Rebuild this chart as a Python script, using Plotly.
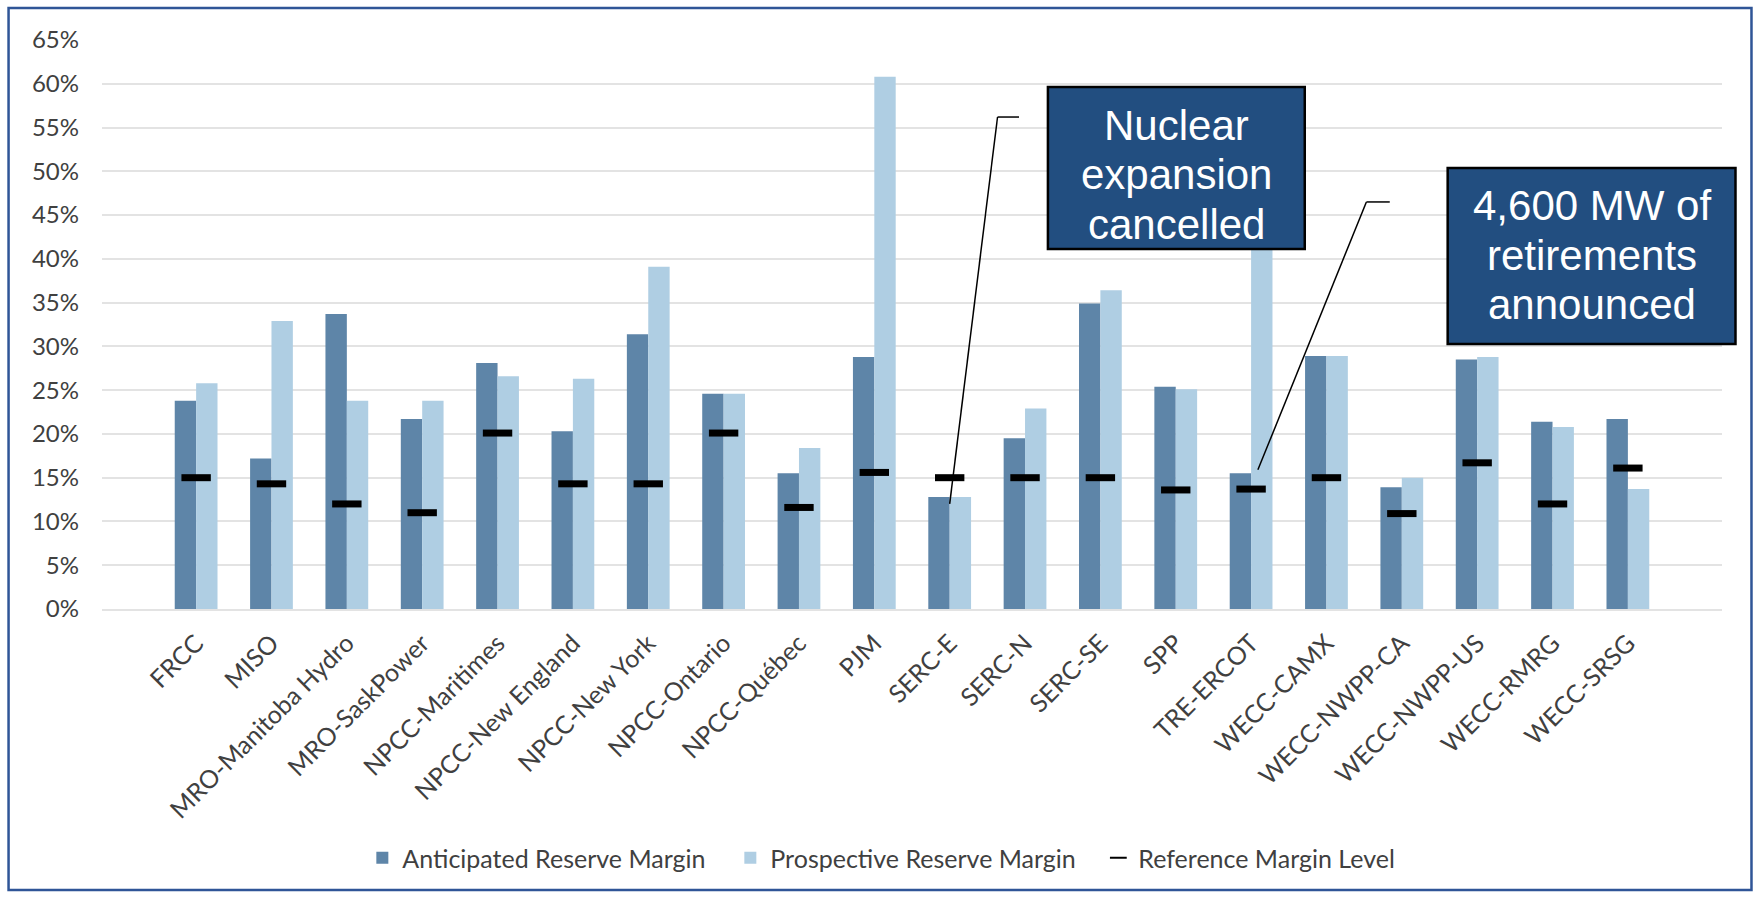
import plotly.graph_objects as go

categories = ["FRCC", "MISO", "MRO-Manitoba Hydro", "MRO-SaskPower", "NPCC-Maritimes",
              "NPCC-New England", "NPCC-New York", "NPCC-Ontario", "NPCC-Québec", "PJM",
              "SERC-E", "SERC-N", "SERC-SE", "SPP", "TRE-ERCOT", "WECC-CAMX",
              "WECC-NWPP-CA", "WECC-NWPP-US", "WECC-RMRG", "WECC-SRSG"]
anticipated = [23.8, 17.2, 33.7, 21.7, 28.1, 20.3, 31.4, 24.6, 15.5, 28.8,
               12.8, 19.5, 34.9, 25.4, 15.5, 28.9, 13.9, 28.5, 21.4, 21.7]
prospective = [25.8, 32.9, 23.8, 23.8, 26.6, 26.3, 39.1, 24.6, 18.4, 60.8,
               12.8, 22.9, 36.4, 25.1, 44.0, 28.9, 15.0, 28.8, 20.8, 13.7]
reference = [15.0, 14.3, 12.0, 11.0, 20.1, 14.3, 14.3, 20.1, 11.6, 15.6,
             15.0, 15.0, 15.0, 13.6, 13.7, 15.0, 10.9, 16.7, 12.0, 16.1]
y_ticks = list(range(0, 70, 5))
y_tick_labels = [f"{v}%" for v in y_ticks]
callout1_lines = ["Nuclear", "expansion", "cancelled"]
callout2_lines = ["4,600 MW of", "retirements", "announced"]

W, H = 1756, 897
L, R, T, B = 101.5, 1722.5, 40, 609


def px(x):
    return (x - L) / (R - L)


def py(y):
    return (B - y) / (B - T)


DARK = "#5E85A8"
LIGHT = "#AFCEE3"
BOXC = "#224E80"
TXT = "#404040"

fig = go.Figure()
fig.add_trace(go.Bar(x=categories, y=anticipated, name="Anticipated Reserve Margin",
                     marker=dict(color=DARK, line=dict(width=0))))
fig.add_trace(go.Bar(x=categories, y=prospective, name="Prospective Reserve Margin",
                     marker=dict(color=LIGHT, line=dict(width=0))))
fig.add_trace(go.Scatter(x=categories, y=reference, name="Reference Margin Level",
                         mode="markers",
                         marker=dict(symbol="line-ew", size=21, color="black",
                                     line=dict(color="black", width=7))))

shapes = []
# outer frame
shapes.append(dict(type="rect", xref="paper", yref="paper",
                   x0=px(8), x1=px(1752), y0=py(8), y1=py(890),
                   line=dict(color="#2F5597", width=2.5), layer="below"))
# leader lines (x in category index units, y in %)
shapes.append(dict(type="line", xref="x", yref="y", x0=10.92, x1=10.635, y0=56.2, y1=56.2,
                   line=dict(color="black", width=1.5), layer="above"))
shapes.append(dict(type="line", xref="x", yref="y", x0=10.635, x1=10.0, y0=56.2, y1=12.0,
                   line=dict(color="black", width=1.5), layer="above"))
shapes.append(dict(type="line", xref="x", yref="y", x0=15.84, x1=15.53, y0=46.5, y1=46.5,
                   line=dict(color="black", width=1.5), layer="above"))
shapes.append(dict(type="line", xref="x", yref="y", x0=15.53, x1=14.09, y0=46.5, y1=15.9,
                   line=dict(color="black", width=1.5), layer="above"))
# callout boxes
shapes.append(dict(type="rect", xref="paper", yref="paper",
                   x0=px(1048), x1=px(1305), y0=py(87), y1=py(249),
                   fillcolor=BOXC, line=dict(color="black", width=2.5), layer="above"))
shapes.append(dict(type="rect", xref="paper", yref="paper",
                   x0=px(1448), x1=px(1736), y0=py(168), y1=py(344),
                   fillcolor=BOXC, line=dict(color="black", width=2.5), layer="above"))

annotations = []
for line, yc in zip(callout1_lines, [125, 175, 224]):
    annotations.append(dict(xref="paper", yref="paper", x=px(1176.5), y=py(yc),
                            xanchor="center", yanchor="middle", text=line, showarrow=False,
                            font=dict(family="Liberation Sans, Arial", size=42, color="white")))
for line, yc in zip(callout2_lines, [205, 255, 304]):
    annotations.append(dict(xref="paper", yref="paper", x=px(1592), y=py(yc),
                            xanchor="center", yanchor="middle", text=line, showarrow=False,
                            font=dict(family="Liberation Sans, Arial", size=42, color="white")))

fig.update_layout(
    width=W, height=H, autosize=False,
    margin=dict(l=L, r=W - R, t=T, b=H - B, pad=0),
    paper_bgcolor="white", plot_bgcolor="white",
    barmode="group", bargap=0.4325, bargroupgap=0,
    font=dict(family="Lato", color=TXT),
    shapes=shapes, annotations=annotations,
    legend=dict(orientation="h", x=px(362), xanchor="left", y=py(858), yanchor="middle",
                font=dict(family="Lato", size=25, color=TXT), traceorder="normal",
                entrywidth=323, entrywidthmode="pixels",
                itemsizing="constant"),
    showlegend=True,
)
fig.update_yaxes(range=[0, 65], tickvals=y_ticks, ticktext=y_tick_labels,
                 showgrid=True, gridcolor="#E3E3E3", gridwidth=1.5,
                 zeroline=False, showline=False, ticks="",
                 ticklabelstandoff=22,
                 tickfont=dict(family="Lato", size=24, color=TXT), fixedrange=True)
fig.update_xaxes(type="category", tickangle=-45, showgrid=False, showline=True,
                 linecolor="#E3E3E3", linewidth=1.5, ticks="",
                 ticklabelstandoff=8,
                 tickfont=dict(family="Lato", size=25, color=TXT), fixedrange=True)

fig.write_html("out.html")
